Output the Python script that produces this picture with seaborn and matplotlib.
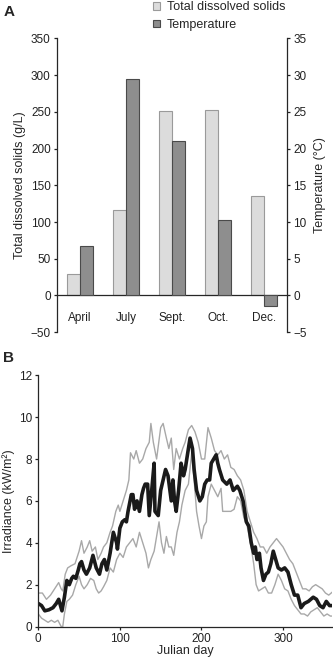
import matplotlib
matplotlib.use("Agg")
from matplotlib import pyplot as plt
from matplotlib.patches import Patch
import pandas as pd
import seaborn as sns

# Panel A data
months = ['April', 'July', 'Sept.', 'Oct.', 'Dec.']
tds = [29, 117, 251, 252, 135]          # g/L
temperature = [6.7, 29.5, 21.0, 10.3, -1.4]  # deg C
series_names = ['Total dissolved solids', 'Temperature']

# Panel B data
mean_days = [0, 4, 8, 13, 18, 22, 25, 29, 32, 35, 38, 41, 43, 46, 49, 51, 53, 56, 59, 63, 67,
             71, 75, 78, 81, 84, 88, 92, 96, 97, 100, 103, 106, 108, 110, 114, 116, 118, 121,
             124, 127, 129, 131, 134, 136, 139, 142, 143, 147, 150, 153, 156, 159, 163, 165,
             167, 169, 172, 175, 178, 180, 182, 186, 189, 191, 194, 198, 201, 204, 207, 210,
             212, 215, 218, 220, 222, 226, 231, 235, 239, 244, 247, 251, 255, 258, 261, 264,
             266, 268, 271, 273, 276, 279, 282, 285, 288, 291, 294, 298, 302, 306, 310, 314,
             318, 322, 326, 331, 337, 341, 345, 349, 353, 357, 362]
mean_irr = [1.1, 1.0, 0.75, 0.8, 0.9, 1.1, 1.3, 0.75, 1.4, 2.2, 2.0, 2.3, 2.4, 2.3, 2.7, 3.0,
            3.1, 2.7, 2.5, 2.8, 3.4, 2.8, 2.5, 3.0, 3.2, 2.7, 3.5, 4.5, 4.0, 3.7, 4.7, 5.0,
            5.1, 5.0, 5.5, 6.3, 6.3, 5.6, 6.0, 5.5, 6.3, 6.6, 6.8, 6.8, 5.3, 6.5, 7.8, 5.5,
            5.3, 6.5, 7.0, 7.5, 7.2, 6.0, 7.0, 6.0, 5.5, 6.5, 7.8, 7.2, 7.5, 8.0, 9.0, 8.5,
            7.5, 6.5, 6.0, 6.2, 6.8, 7.0, 7.0, 7.8, 8.0, 8.2, 7.8, 7.5, 7.0, 6.8, 7.0, 6.5,
            6.7, 6.5, 6.0, 5.0, 4.8, 4.0, 3.5, 3.8, 3.2, 3.5, 2.8, 2.2, 2.5, 2.6, 3.0, 3.6,
            3.2, 2.8, 2.7, 2.8, 2.6, 2.0, 1.5, 1.5, 0.9, 1.1, 1.2, 1.4, 1.3, 1.0, 0.9, 1.2,
            1.0, 1.0]

upper_days = [0, 5, 10, 15, 20, 25, 28, 30, 33, 36, 40, 45, 50, 53, 56, 60, 63, 66, 70, 73,
              77, 80, 84, 88, 91, 95, 98, 100, 104, 108, 111, 113, 117, 120, 124, 128, 132,
              136, 138, 141, 145, 150, 153, 157, 160, 163, 166, 169, 173, 177, 180, 184, 188,
              192, 196, 200, 204, 208, 212, 216, 220, 224, 228, 232, 236, 240, 244, 248, 252,
              256, 260, 264, 268, 272, 276, 280, 284, 288, 292, 296, 300, 304, 308, 312, 316,
              320, 324, 328, 332, 336, 340, 344, 348, 352, 356, 362]
upper_irr = [1.6, 1.6, 1.3, 1.5, 1.8, 2.1, 1.8, 1.7, 2.5, 2.8, 2.9, 3.0, 3.6, 4.1, 3.5, 3.8,
             4.1, 3.6, 3.8, 3.2, 3.5, 3.8, 4.0, 4.5, 4.8, 5.5, 5.8, 5.5, 6.0, 6.5, 7.0, 8.3,
             8.0, 8.4, 7.8, 8.0, 8.5, 8.8, 9.7, 8.8, 8.0, 9.5, 9.7, 9.0, 8.5, 9.0, 7.5, 8.5,
             8.0, 8.5, 8.8, 9.4, 9.6, 9.3, 8.8, 8.0, 8.0, 9.5, 9.0, 8.4, 8.2, 8.4, 8.0, 8.2,
             7.6, 7.5, 7.2, 7.0, 6.5, 5.5, 5.0, 4.5, 4.2, 3.8, 3.8, 3.5, 3.8, 4.0, 4.2, 4.0,
             3.8, 3.5, 3.2, 3.0, 2.6, 2.2, 1.8, 1.8, 1.7, 1.9, 2.0, 1.9, 1.8, 1.6, 1.5, 1.7]

lower_days = [0, 4, 8, 12, 16, 20, 24, 28, 30, 32, 35, 38, 42, 46, 50, 53, 56, 60, 64, 68,
              71, 74, 77, 80, 84, 88, 92, 96, 100, 104, 108, 112, 116, 120, 124, 128, 132,
              135, 138, 142, 145, 148, 151, 154, 157, 160, 163, 166, 170, 173, 176, 180, 184,
              188, 191, 194, 197, 200, 203, 206, 208, 212, 216, 220, 224, 226, 230, 236, 240,
              244, 248, 252, 256, 260, 264, 267, 270, 274, 278, 282, 286, 290, 294, 298, 302,
              306, 310, 314, 318, 322, 326, 330, 334, 338, 342, 346, 350, 354, 358, 362]
lower_irr = [0.6, 0.4, 0.3, 0.2, 0.3, 0.2, 0.3, 0.0, 0.0, 0.6, 1.2, 1.3, 1.5, 2.0, 2.4, 2.0,
             1.8, 2.0, 2.3, 2.2, 1.8, 1.6, 1.7, 1.9, 2.2, 2.8, 2.6, 3.2, 3.5, 3.3, 3.8, 4.0,
             4.2, 3.8, 4.5, 4.0, 3.5, 2.8, 3.2, 3.6, 4.3, 5.0, 4.0, 3.5, 4.3, 3.8, 3.8, 3.4,
             4.5, 5.0, 5.8, 6.5, 6.8, 8.3, 7.0, 5.5, 4.8, 4.2, 4.8, 5.0, 6.2, 6.8, 6.5, 6.2,
             6.6, 5.5, 5.5, 5.5, 5.6, 6.2, 6.0, 5.2, 4.8, 4.0, 3.0, 2.0, 1.7, 1.8, 1.9, 1.6,
             1.6, 2.0, 2.5, 2.2, 1.8, 1.7, 1.3, 1.0, 0.8, 0.6, 0.6, 0.5, 0.7, 0.8, 0.9, 0.7,
             0.5, 0.6, 0.5, 0.5]

sns.set_style('ticks')
plt.rcParams['font.family'] = ['Liberation Sans', 'DejaVu Sans']
plt.rcParams['axes.linewidth'] = 0.9
plt.rcParams['xtick.major.width'] = 0.9
plt.rcParams['ytick.major.width'] = 0.9
plt.rcParams['xtick.major.size'] = 2.5
plt.rcParams['ytick.major.size'] = 2.5
plt.rcParams['xtick.color'] = '#222222'
plt.rcParams['ytick.color'] = '#222222'

fill = {series_names[0]: '#dcdcdc', series_names[1]: '#8e8e8e'}
edges = {series_names[0]: '#9a9a9a', series_names[1]: '#4a4a4a'}

df = pd.DataFrame({
    'month': months * 2,
    'series': [series_names[0]] * len(months) + [series_names[1]] * len(months),
    'value': tds + temperature,
})

fig = plt.figure(figsize=(3.33, 6.63), dpi=100)

# Panel A: TDS on the left axis, temperature on a twin axis
axA = fig.add_axes([0.171, 0.499, 0.691, 0.443])
axT = axA.twinx()
sns.barplot(data=df[df['series'] == series_names[0]], x='month', y='value', hue='series',
            order=months, hue_order=series_names, palette=fill, width=0.58, gap=0,
            dodge=True, errorbar=None, edgecolor=edges[series_names[0]], linewidth=0.8,
            legend=False, ax=axA)
sns.barplot(data=df[df['series'] == series_names[1]], x='month', y='value', hue='series',
            order=months, hue_order=series_names, palette=fill, width=0.58, gap=0,
            dodge=True, errorbar=None, edgecolor=edges[series_names[1]], linewidth=0.8,
            legend=False, ax=axT)

for ax in (axA, axT):
    ax.set_xlim(-0.5, 4.5)
    ax.set_xlabel('')
axA.set_ylim(-50, 350)
axT.set_ylim(-5, 35)
axA.set_yticks(range(-50, 351, 50))
axT.set_yticks(range(-5, 36, 5))
axA.spines['top'].set_visible(False)
axA.spines['right'].set_visible(False)
axA.spines['bottom'].set_position(('data', 0))
for s in ('top', 'left', 'bottom'):
    axT.spines[s].set_visible(False)
axA.tick_params(axis='x', length=0, pad=12, labelsize=8.5)
axA.tick_params(axis='y', labelsize=8.5, pad=2)
axT.tick_params(axis='y', labelsize=8.5, pad=2)
axA.set_ylabel('Total dissolved solids (g/L)', fontsize=9, labelpad=3)
axT.set_ylabel('Temperature (°C)', fontsize=9, rotation=90, labelpad=5)

handles = [Patch(facecolor=fill[n], edgecolor=edges[n], linewidth=0.8) for n in series_names]
fig.legend(handles, series_names, loc='upper left', bbox_to_anchor=(0.455, 1.0),
           frameon=False, fontsize=9, handlelength=0.6, handleheight=0.6,
           handletextpad=0.5, labelspacing=0.45, borderpad=0.1, borderaxespad=0)

# Panel B
axB = fig.add_axes([0.115, 0.055, 0.882, 0.379])
sns.lineplot(x=upper_days, y=upper_irr, color='#a8a8a8', lw=1.0, ax=axB)
sns.lineplot(x=lower_days, y=lower_irr, color='#a8a8a8', lw=1.0, ax=axB)
sns.lineplot(x=mean_days, y=mean_irr, color='#1a1a1a', lw=2.6, ax=axB)
axB.set_xlim(0, 360)
axB.set_ylim(0, 12)
axB.set_xticks([0, 100, 200, 300])
axB.set_yticks(range(0, 13, 2))
sns.despine(ax=axB)
axB.tick_params(labelsize=8.5, pad=2)
axB.set_xlabel('Julian day', fontsize=9, labelpad=0)
axB.set_ylabel('Irradiance (kW/m²)', fontsize=9, labelpad=3)

fig.text(0.01, 0.982, 'A', fontsize=11, fontweight='bold', va='center')
fig.text(0.01, 0.46, 'B', fontsize=11, fontweight='bold', va='center')

fig.savefig('out.png', dpi=100)
